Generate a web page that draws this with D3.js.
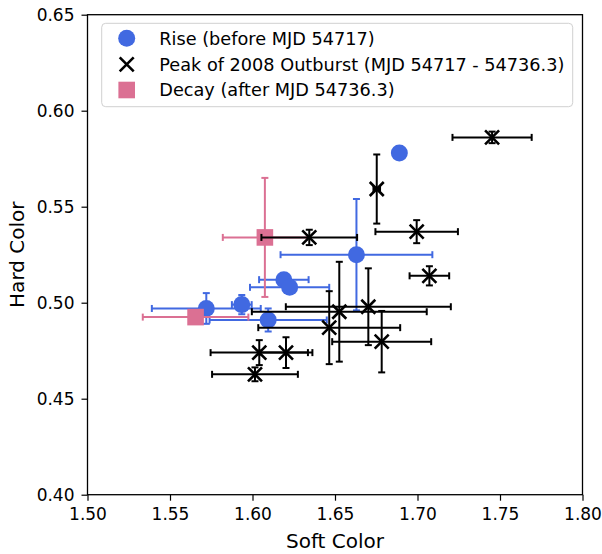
<!DOCTYPE html>
<html>
<head>
<meta charset="utf-8">
<script src="https://cdn.jsdelivr.net/npm/d3@7"></script>
<style>
  body { margin: 0; background: #fff; }
  text { font-family: "DejaVu Sans", sans-serif; }
</style>
</head>
<body>
<div id="chart"></div>
<script>
// Rise (before MJD 54717)
var riseX = [1.689, 1.663, 1.619, 1.6225, 1.572, 1.5935, 1.6095]
var riseY = [0.578, 0.525, 0.512, 0.508, 0.497, 0.499, 0.491]
var riseXErr = [0.002, 0.046, 0.015, 0.024, 0.033, 0.006, 0.0355]
var riseYErr = [0.001, 0.029, 0.002, 0.002, 0.008, 0.005, 0.006]

// Peak of 2008 outburst
var peakX = [1.7452, 1.6753, 1.6995, 1.6344, 1.7072, 1.6702, 1.6783, 1.6526, 1.6465, 1.6041, 1.6203, 1.6015]
var peakY = [0.5861, 0.5592, 0.537, 0.534, 0.514, 0.4979, 0.4797, 0.4953, 0.487, 0.474, 0.474, 0.4627]
var peakXErr = [0.024, 0.002, 0.025, 0.029, 0.012, 0.050, 0.030, 0.053, 0.043, 0.0295, 0.016, 0.026]
var peakYErr = [0.003, 0.018, 0.006, 0.004, 0.005, 0.020, 0.016, 0.026, 0.019, 0.0065, 0.008, 0.0036]

// Decay (after MJD 54736.3)
var decayX = [1.6075, 1.5655]
var decayY = [0.534, 0.4925]
var decayXErr = [0.0255, 0.032]
var decayYErr = [0.031, 0.003]

var xTicks = [1.50, 1.55, 1.60, 1.65, 1.70, 1.75, 1.80]
var yTicks = [0.40, 0.45, 0.50, 0.55, 0.60, 0.65]
var legendLabels = ["Rise (before MJD 54717)", "Peak of 2008 Outburst (MJD 54717 - 54736.3)", "Decay (after MJD 54736.3)"]

var margin = { top: 14.7, left: 87.5, right: 19.5, bottom: 59.3 },
  width = 602 - margin.left - margin.right,
  height = 554 - margin.top - margin.bottom

var svg = d3.select("#chart")
  .append("svg")
  .attr("width", 602)
  .attr("height", 554)
  .append("g")
  .attr("transform", "translate(" + margin.left + "," + margin.top + ")")

var x = d3.scaleLinear().domain([1.5, 1.8]).range([0, width])
var y = d3.scaleLinear().domain([0.4, 0.65]).range([height, 0])

function zip(xs, ys, xe, ye) {
  return xs.map(function(d, i) { return { x: d, y: ys[i], xe: xe[i], ye: ye[i] } })
}

var rise = zip(riseX, riseY, riseXErr, riseYErr)
var peak = zip(peakX, peakY, peakXErr, peakYErr)
var decay = zip(decayX, decayY, decayXErr, decayYErr)

var cap = 3.5

function errorBars(data, color, cls) {
  var g = svg.append("g").attr("class", cls)
    .attr("stroke", color).attr("stroke-width", 2).attr("fill", "none")
  data.forEach(function(d) {
    var cx = x(d.x), cy = y(d.y)
    var x0 = x(d.x - d.xe), x1 = x(d.x + d.xe)
    var y0 = y(d.y - d.ye), y1 = y(d.y + d.ye)
    g.append("line").attr("x1", x0).attr("x2", x1).attr("y1", cy).attr("y2", cy)
    g.append("line").attr("x1", cx).attr("x2", cx).attr("y1", y0).attr("y2", y1)
    g.append("line").attr("x1", x0).attr("x2", x0).attr("y1", cy - cap).attr("y2", cy + cap)
    g.append("line").attr("x1", x1).attr("x2", x1).attr("y1", cy - cap).attr("y2", cy + cap)
    g.append("line").attr("x1", cx - cap).attr("x2", cx + cap).attr("y1", y0).attr("y2", y0)
    g.append("line").attr("x1", cx - cap).attr("x2", cx + cap).attr("y1", y1).attr("y2", y1)
  })
}

var blue = "#4169e1", pink = "#db7093"

// rise
errorBars(rise, blue, "rise-err")
svg.selectAll(".rise")
  .data(rise)
  .enter().append("circle")
  .attr("class", "rise")
  .attr("cx", function(d) { return x(d.x) })
  .attr("cy", function(d) { return y(d.y) })
  .attr("r", 8.5)
  .attr("fill", blue)

// decay
errorBars(decay, pink, "decay-err")
svg.selectAll(".decay")
  .data(decay)
  .enter().append("rect")
  .attr("class", "decay")
  .attr("x", function(d) { return x(d.x) - 8.3 })
  .attr("y", function(d) { return y(d.y) - 8.3 })
  .attr("width", 16.6)
  .attr("height", 16.6)
  .attr("fill", pink)

// peak
errorBars(peak, "#000", "peak-err")
var xPath = "M-7,-7L7,7M-7,7L7,-7"
svg.selectAll(".peak")
  .data(peak)
  .enter().append("path")
  .attr("class", "peak")
  .attr("transform", function(d) { return "translate(" + x(d.x) + "," + y(d.y) + ")" })
  .attr("d", xPath)
  .attr("stroke", "#000")
  .attr("stroke-width", 2.6)

// axes
var xAxis = d3.axisBottom(x).tickValues(xTicks).tickFormat(d3.format(".2f")).tickSizeOuter(0).tickSize(6).tickPadding(7)
var yAxis = d3.axisLeft(y).tickValues(yTicks).tickFormat(d3.format(".2f")).tickSizeOuter(0).tickSize(6).tickPadding(7)

svg.append("g")
  .attr("class", "axis x-axis")
  .attr("transform", "translate(0," + height + ")")
  .call(xAxis)

svg.append("g")
  .attr("class", "axis y-axis")
  .call(yAxis)

svg.selectAll(".axis text").attr("font-size", 17).attr("font-family", "DejaVu Sans").attr("fill", "#000")
svg.selectAll(".axis line").attr("stroke", "#000").attr("stroke-width", 1.2)
svg.selectAll(".axis .domain").remove()

svg.append("rect")
  .attr("width", width)
  .attr("height", height)
  .attr("fill", "none")
  .attr("stroke", "#000")
  .attr("stroke-width", 1.3)

svg.append("text")
  .attr("x", width / 2)
  .attr("y", height + 53)
  .attr("text-anchor", "middle")
  .attr("font-size", 20)
  .text("Soft Color")

svg.append("text")
  .attr("transform", "translate(" + (-64) + "," + (height / 2) + ") rotate(-90)")
  .attr("text-anchor", "middle")
  .attr("font-size", 20)
  .text("Hard Color")

// legend
var legend = svg.append("g")
  .attr("transform", "translate(" + (101.7 - margin.left) + "," + (23.3 - margin.top) + ")")

legend.append("rect")
  .attr("width", 471)
  .attr("height", 83.4)
  .attr("rx", 4)
  .attr("fill", "#fff")
  .attr("fill-opacity", 0.8)
  .attr("stroke", "#d0d0d0")
  .attr("stroke-width", 1)

var rowY = [15, 41, 66.7]
var mx = 25

legend.append("circle").attr("cx", mx).attr("cy", rowY[0]).attr("r", 8.5).attr("fill", blue)
legend.append("path").attr("transform", "translate(" + mx + "," + rowY[1] + ")")
  .attr("d", xPath).attr("stroke", "#000").attr("stroke-width", 2.6)
legend.append("rect").attr("x", mx - 8.3).attr("y", rowY[2] - 8.3).attr("width", 16.6).attr("height", 16.6).attr("fill", pink)

legend.selectAll(".legend-label")
  .data(legendLabels)
  .enter().append("text")
  .attr("class", "legend-label")
  .attr("x", 57.6)
  .attr("y", function(d, i) { return rowY[i] })
  .attr("dy", "0.36em")
  .attr("font-size", 17.7)
  .text(function(d) { return d })
</script>
</body>
</html>
